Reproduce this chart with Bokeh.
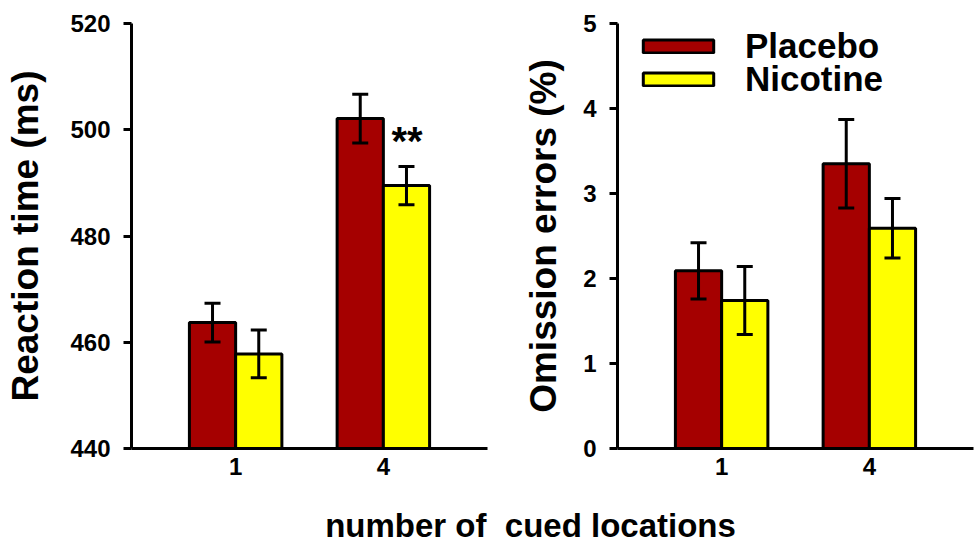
import numpy as np
from bokeh.plotting import figure
from bokeh.models import (Range1d, FixedTicker, Whisker, TeeHead, ColumnDataSource,
                          Legend, LegendItem, Label)
from bokeh.layouts import row, column
from bokeh.embed import file_html
from bokeh.resources import INLINE

# ---------------- data ----------------
cued_locations = ["1", "4"]
series_names = ["Placebo", "Nicotine"]

rt_placebo = [463.7, 502.1]
rt_placebo_se = [3.65, 4.6]
rt_nicotine = [457.8, 489.5]
rt_nicotine_se = [4.5, 3.6]

om_placebo = [2.09, 3.35]
om_placebo_se = [0.33, 0.52]
om_nicotine = [1.74, 2.59]
om_nicotine_se = [0.40, 0.35]

rt_ticks = [440, 460, 480, 500, 520]
om_ticks = [0, 1, 2, 3, 4, 5]

x_title = "number of\u00a0 cued locations"

# ---------------- style ----------------
RED = "#A50000"
YEL = "#FFFF00"
FONT = "Liberation Sans"
BAR_W = 0.313
OFF = BAR_W / 2


def panel(width, border_left, border_right, y_start, y_end, ticks, ylabel,
          label_standoff, vals_p, se_p, vals_n, se_n):
    p = figure(width=width, height=488, output_backend="svg", toolbar_location=None,
               x_range=Range1d(0.295, 2.705), y_range=Range1d(y_start, y_end),
               min_border_left=border_left, min_border_right=border_right,
               min_border_top=23, min_border_bottom=40)
    p.grid.visible = False
    p.outline_line_color = None
    p.background_fill_color = "white"
    p.border_fill_color = "white"

    x = np.arange(len(cued_locations)) + 1.0
    src_p = ColumnDataSource(dict(x=x - OFF, top=vals_p,
                                  upper=np.array(vals_p) + np.array(se_p),
                                  lower=np.array(vals_p) - np.array(se_p)))
    src_n = ColumnDataSource(dict(x=x + OFF, top=vals_n,
                                  upper=np.array(vals_n) + np.array(se_n),
                                  lower=np.array(vals_n) - np.array(se_n)))
    rp = p.vbar(x="x", top="top", bottom=y_start, width=BAR_W, source=src_p,
                fill_color=RED, line_color="black", line_width=3)
    rn = p.vbar(x="x", top="top", bottom=y_start, width=BAR_W, source=src_n,
                fill_color=YEL, line_color="black", line_width=3)
    for s in (src_p, src_n):
        w = Whisker(source=s, base="x", upper="upper", lower="lower",
                    line_color="black", line_width=3, level="annotation",
                    upper_head=TeeHead(size=16, line_width=3, line_color="black"),
                    lower_head=TeeHead(size=16, line_width=3, line_color="black"))
        p.add_layout(w)

    xa = p.xaxis[0]
    xa.ticker = FixedTicker(ticks=list(x))
    xa.major_label_overrides = {float(v): c for v, c in zip(x, cued_locations)}
    xa.major_tick_out = 0
    xa.major_tick_in = 0
    xa.minor_tick_out = 0
    xa.minor_tick_in = 0
    xa.major_label_standoff = 9
    ya = p.yaxis[0]
    ya.ticker = FixedTicker(ticks=ticks)
    ya.major_tick_out = 8
    ya.major_tick_in = 0
    ya.minor_tick_out = 0
    ya.minor_tick_in = 0
    ya.major_label_standoff = 13
    ya.axis_label = ylabel
    ya.axis_label_standoff = label_standoff
    ya.axis_label_text_font = FONT
    ya.axis_label_text_font_size = "37px"
    ya.axis_label_text_font_style = "bold"
    ya.axis_label_text_color = "black"
    for ax in (xa, ya):
        ax.axis_line_width = 3
        ax.axis_line_color = "black"
        ax.major_tick_line_width = 3
        ax.major_tick_line_color = "black"
        ax.major_label_text_font = FONT
        ax.major_label_text_font_size = "24px"
        ax.major_label_text_font_style = "bold"
        ax.major_label_text_color = "black"
    return p, rp, rn


p1, _, _ = panel(494, 131, 7, 440, 520, rt_ticks, "Reaction time (ms)", 21,
                 rt_placebo, rt_placebo_se, rt_nicotine, rt_nicotine_se)
p1.add_layout(Label(x=2.16, y=497.8, text="**", text_font=FONT, text_font_size="40px",
                    text_font_style="bold", text_align="center",
                    text_baseline="alphabetic", text_color="black"))

p2, rp, rn = panel(480, 123, 1, 0, 5, om_ticks, "Omission errors (%)", 16,
                   om_placebo, om_placebo_se, om_nicotine, om_nicotine_se)

for name, rend, ly in ((series_names[0], rp, 382.5), (series_names[1], rn, 349.5)):
    leg = Legend(items=[LegendItem(label=name, renderers=[rend])],
                 location=(17, ly), glyph_width=88, glyph_height=16,
                 label_standoff=23, label_height=40, padding=0, margin=0,
                 spacing=0, border_line_color=None, background_fill_alpha=0,
                 label_text_font=FONT, label_text_font_size="35px",
                 label_text_font_style="bold", label_text_color="black")
    p2.add_layout(leg, "center")

p3 = figure(width=974, height=55, output_backend="svg", toolbar_location=None,
            x_range=Range1d(0, 1), y_range=Range1d(0, 1),
            x_axis_location=None, y_axis_location=None, min_border=0)
p3.grid.visible = False
p3.outline_line_color = None
p3.add_layout(Label(x=530, y=18, x_units="screen", y_units="screen",
                    text=x_title, text_font=FONT,
                    text_font_size="33px", text_font_style="bold",
                    text_align="center", text_baseline="alphabetic",
                    text_color="black"))

layout = column(row(p1, p2), p3)
open("out.html", "w").write(file_html(layout, INLINE))
